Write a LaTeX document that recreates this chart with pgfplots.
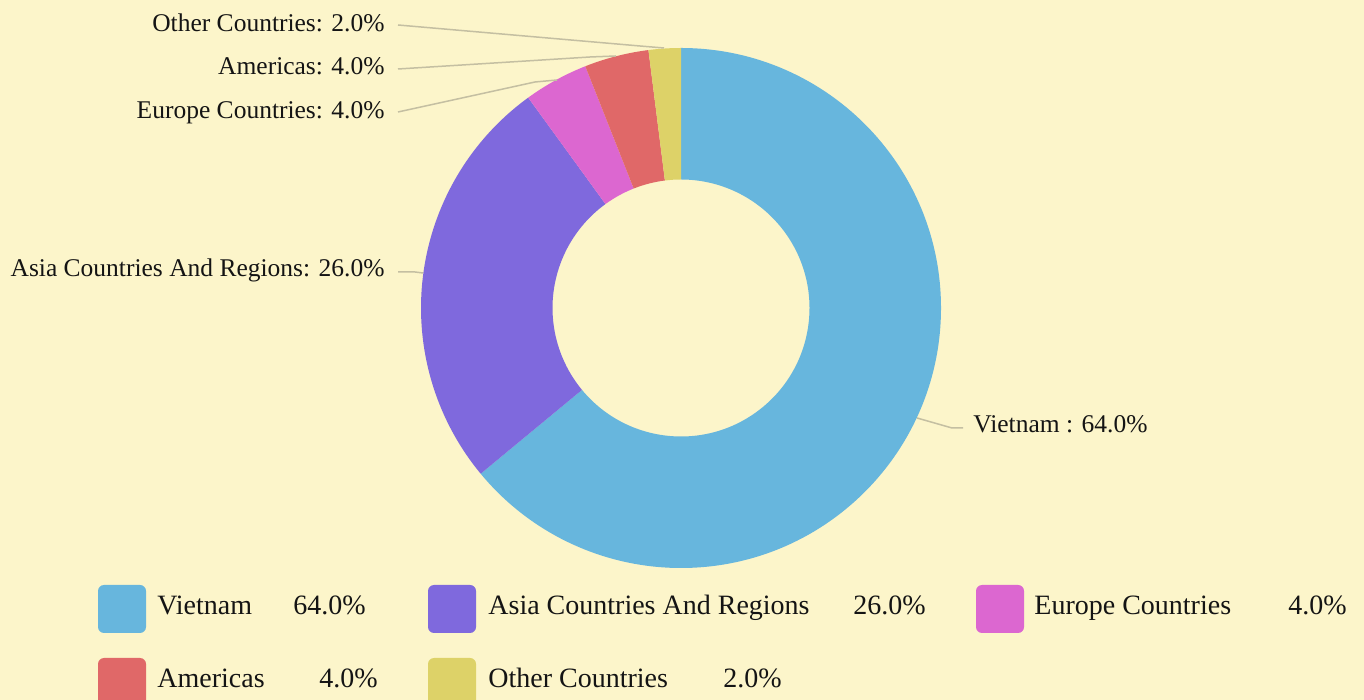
\documentclass[border=0pt]{standalone}
\usepackage{pgfplots}
\pgfplotsset{compat=1.18}
\usepackage{pgfplotstable}
\usepackage{fontspec}
\setmainfont{Liberation Serif}
\definecolor{bg}{HTML}{FCF5CA}
\definecolor{c0}{HTML}{67B6DD}
\definecolor{c1}{HTML}{7F69DD}
\definecolor{c2}{HTML}{DC67D0}
\definecolor{c3}{HTML}{E06868}
\definecolor{c4}{HTML}{DDD268}
\definecolor{lead}{HTML}{C4BFA2}
\definecolor{txt}{HTML}{141414}
\pgfplotstableread[col sep=comma]{
name,value
Vietnam,64
Asia Countries And Regions,26
Europe Countries,4
Americas,4
Other Countries,2
}\piedata
\begin{document}
\begin{tikzpicture}
\gdef\cum{0}%
\foreach \i in {0,...,4}{%
  \pgfplotstablegetelem{\i}{value}\of\piedata
  \let\v\pgfplotsretval
  \pgfmathsetmacro\sa{90-3.6*\cum}%
  \pgfmathsetmacro\newcum{\cum+\v}%
  \pgfmathsetmacro\ea{90-3.6*\newcum}%
  \expandafter\xdef\csname sa\i\endcsname{\sa}%
  \expandafter\xdef\csname ea\i\endcsname{\ea}%
  \xdef\cum{\newcum}%
}%
\fill[bg] (0,0) rectangle (682pt,350pt);
\begin{axis}[hide axis, scale only axis, x=0.5pt, y=0.5pt,
  xmin=0, xmax=1364, ymin=0, ymax=700, clip=false]
\pgfplotsinvokeforeach{0,...,4}{%
  \fill[c#1] ({681+260*cos(\csname sa#1\endcsname)},{392+260*sin(\csname sa#1\endcsname)})
    arc[start angle=\csname sa#1\endcsname, end angle=\csname ea#1\endcsname, radius=130pt]
    -- ({681+128.5*cos(\csname ea#1\endcsname)},{392+128.5*sin(\csname ea#1\endcsname)})
    arc[start angle=\csname ea#1\endcsname, end angle=\csname sa#1\endcsname, radius=64.25pt] -- cycle;
}
% leader lines
\draw[lead, line width=0.75pt] (398,675) -- (640,654) -- (664,652);
\draw[lead, line width=0.75pt] (398,631) -- (590,643) -- (616,644);
\draw[lead, line width=0.75pt] (398,588) -- (535,618) -- (557,620);
\draw[lead, line width=0.75pt] (398,428) -- (415,428) -- (423,427);
\draw[lead, line width=0.75pt] (917,282) -- (952,272) -- (963,272);
% labels
\begin{scope}[every node/.style={font=\fontsize{12.75}{15}\selectfont, text=txt, inner sep=0pt}]
\node[anchor=base east] at (385,668) {Other Countries: 2.0\%};
\node[anchor=base east] at (385,625) {Americas: 4.0\%};
\node[anchor=base east] at (385,581) {Europe Countries: 4.0\%};
\node[anchor=base east] at (385,423) {Asia Countries And Regions: 26.0\%};
\node[anchor=base west] at (973,267) {Vietnam : 64.0\%};
\end{scope}
% legend
\fill[c0, rounded corners=3pt] (98,115) rectangle (146,67);
\fill[c1, rounded corners=3pt] (428,115) rectangle (476,67);
\fill[c2, rounded corners=3pt] (976,115) rectangle (1024,67);
\fill[c3, rounded corners=3pt] (98,42) rectangle (146,-6);
\fill[c4, rounded corners=3pt] (428,42) rectangle (476,-6);
\begin{scope}[every node/.style={font=\fontsize{14}{16}\selectfont, text=txt, inner sep=0pt, anchor=base west}]
\node at (157,85) {Vietnam};
\node at (293,85) {64.0\%};
\node at (488,85) {Asia Countries And Regions};
\node at (853,85) {26.0\%};
\node at (1034,85) {Europe Countries};
\node at (1288,85) {4.0\%};
\node at (157,12) {Americas};
\node at (319,12) {4.0\%};
\node at (488,12) {Other Countries};
\node at (723,12) {2.0\%};
\end{scope}
\end{axis}
\pgfresetboundingbox
\path[use as bounding box] (0,0) rectangle (682pt,350pt);
\end{tikzpicture}
\end{document}
